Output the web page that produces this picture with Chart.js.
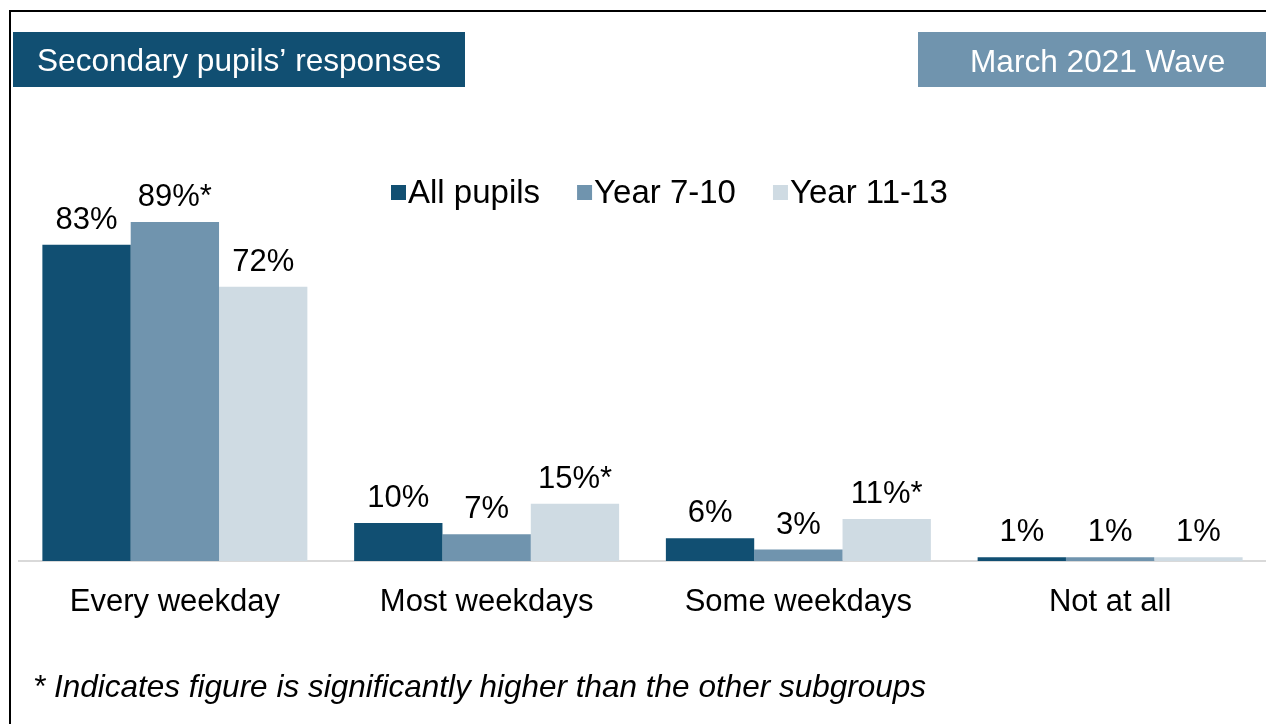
<!DOCTYPE html>
<html>
<head>
<meta charset="utf-8">
<script src="https://cdn.jsdelivr.net/npm/chart.js@4/dist/chart.umd.min.js"></script>
<style>
  html, body { margin: 0; padding: 0; background: #fff; }
  #wrap { width: 1266px; height: 724px; position: relative; }
</style>
</head>
<body>
<div id="wrap"><canvas id="chart" width="1266" height="724"></canvas></div>
<script>
const categories = ['Every weekday', 'Most weekdays', 'Some weekdays', 'Not at all'];
const seriesNames = ['All pupils', 'Year 7-10', 'Year 11-13'];
const allPupils = [83, 10, 6, 1];
const year7to10 = [89, 7, 3, 1];
const year11to13 = [72, 15, 11, 1];
// which values carry the significance star
const starAll = [false, false, false, false];
const star7to10 = [true, false, false, false];
const star11to13 = [false, true, true, false];

const colors = ['#114f72', '#7094ae', '#cfdbe3'];
const FONT = '"Liberation Sans", Arial, sans-serif';

const valueLabels = {
    id: 'valueLabels',
    afterDatasetsDraw(chart) {
        const ctx = chart.ctx;
        ctx.save();
        ctx.fillStyle = '#000';
        ctx.font = '31px ' + FONT;
        ctx.textAlign = 'center';
        ctx.textBaseline = 'alphabetic';
        chart.data.datasets.forEach((ds, i) => {
            chart.getDatasetMeta(i).data.forEach((bar, j) => {
                const txt = ds.data[j] + '%' + (ds.stars[j] ? '*' : '');
                ctx.fillText(txt, bar.x, bar.y - 16);
            });
        });
        ctx.restore();
    }
};

const decorations = {
    id: 'decorations',
    afterDraw(chart) {
        const ctx = chart.ctx;
        ctx.save();
        // outer frame
        ctx.strokeStyle = '#000';
        ctx.lineWidth = 2;
        ctx.strokeRect(10, 11, 1270, 730);

        // heading boxes
        ctx.fillStyle = '#114f72';
        ctx.fillRect(13, 32, 452, 55);
        ctx.fillStyle = '#7094ae';
        ctx.fillRect(918, 32, 348, 55);
        ctx.fillStyle = '#fff';
        ctx.font = '31.6px ' + FONT;
        ctx.textBaseline = 'alphabetic';
        ctx.textAlign = 'left';
        ctx.fillText('Secondary pupils\u2019 responses', 37, 71);
        ctx.fillText('March 2021 Wave', 970, 72);

        // legend
        let x = 391;
        ctx.font = '33px ' + FONT;
        ctx.textBaseline = 'middle';
        seriesNames.forEach((name, i) => {
            ctx.fillStyle = colors[i];
            ctx.fillRect(x, 185, 15, 15);
            ctx.fillStyle = '#000';
            ctx.fillText(name, x + 17, 194);
            x += 17 + ctx.measureText(name).width + 37;
        });

        // footnote
        ctx.font = 'italic 31.5px ' + FONT;
        ctx.textBaseline = 'alphabetic';
        ctx.fillText('* Indicates figure is significantly higher than the other subgroups', 33, 697);
        ctx.restore();
    }
};

new Chart(document.getElementById('chart'), {
    type: 'bar',
    data: {
        labels: categories,
        datasets: [
            { label: seriesNames[0], data: allPupils, stars: starAll, backgroundColor: colors[0] },
            { label: seriesNames[1], data: year7to10, stars: star7to10, backgroundColor: colors[1] },
            { label: seriesNames[2], data: year11to13, stars: star11to13, backgroundColor: colors[2] }
        ]
    },
    options: {
        responsive: false,
        animation: false,
        events: [],
        layout: { padding: { left: 19, right: 0, top: 180, bottom: 0 } },
        datasets: { bar: { categoryPercentage: 0.85, barPercentage: 1.0 } },
        plugins: {
            legend: { display: false },
            tooltip: { enabled: false },
            title: { display: false }
        },
        scales: {
            x: {
                grid: { display: false },
                border: { display: true, color: '#d9d9d9', width: 2 },
                ticks: { color: '#000', font: { family: FONT, size: 31 }, padding: 15, maxRotation: 0 },
                afterFit(scale) { scale.height = 163; }
            },
            y: {
                display: false,
                min: 0,
                max: 100
            }
        }
    },
    plugins: [valueLabels, decorations]
});
</script>
</body>
</html>
